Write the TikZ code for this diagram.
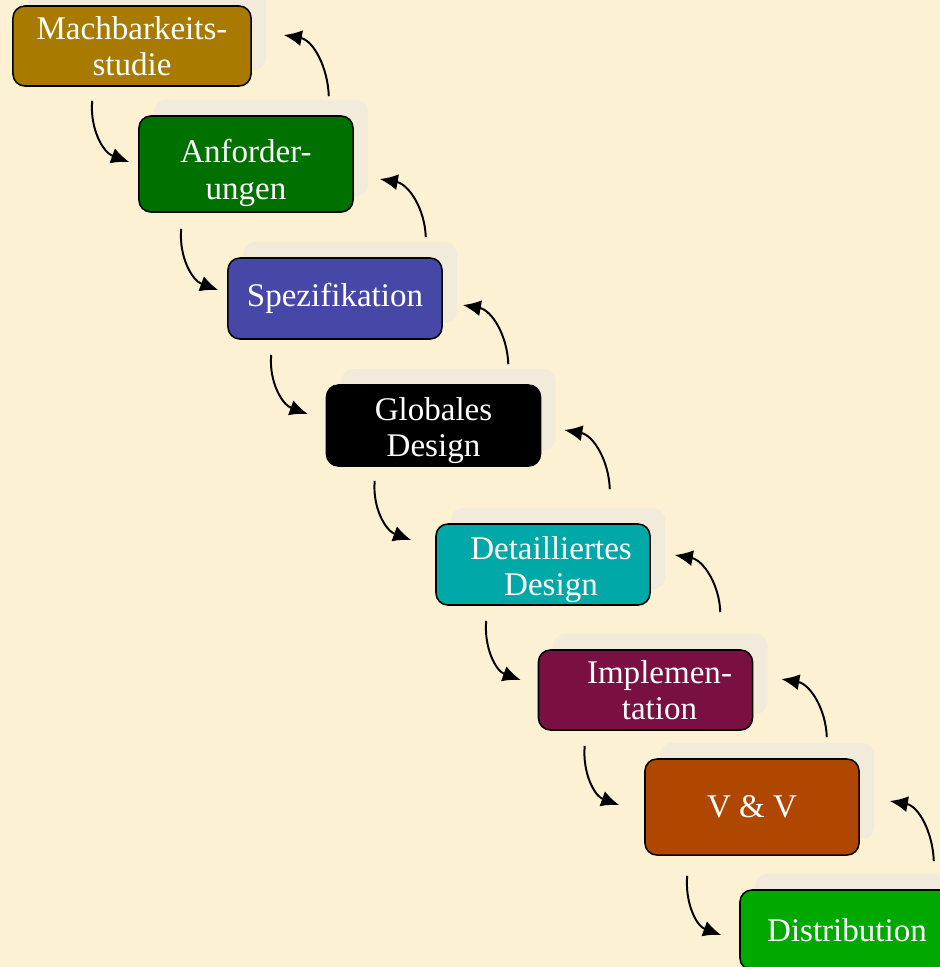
\documentclass[tikz,border=0pt]{standalone}
\usepackage{fontspec}
\setmainfont{Liberation Serif}
\usetikzlibrary{
  arrows.meta,
  calc,     % Calculations $...$
  shadows,  % drop shadow behind the phases
}
\definecolor{parchment}{HTML}{FCF1D2}
\definecolor{shadowgray}{HTML}{F2EBDC}
\definecolor{feascol}{HTML}{A97A00}
\definecolor{reqcol}{HTML}{007000}
\definecolor{speccol}{HTML}{4747A8}
\definecolor{ddescol}{HTML}{00A8A8}
\definecolor{implcol}{HTML}{7A1042}
\definecolor{vvcol}{HTML}{B04700}
\definecolor{distcol}{HTML}{00A800}
\tikzset{
  >={Latex[length=0.45cm,width=0.4cm]},
  phase/.style={
    draw=black,
    line width=1.1pt,
    rounded corners=0.3cm,
    text=white,
    align=center,
    inner sep=1mm,
    minimum width=5.35cm,
    minimum height=2.025cm,
    font=\fontsize{23.5}{26}\selectfont,
    drop shadow={shadow xshift=0.375cm,shadow yshift=0.4cm,
      fill=shadowgray,opacity=1}
  },
  phase high/.style={
    phase,
    minimum height=2.4cm
  },
  % two lines set a bit lower in the box
  lowered/.style={
    text height=#1,
    inner ysep=0pt
  },
  fall link/.style={
    ->,
    line width=1.4pt,
    out=265,in=160
  },
  back link/.style={
    ->,
    line width=1.4pt,
    out=92,in=-10
  }
}
\begin{document}
\begin{tikzpicture}[x=0.025cm,y=-0.025cm]
\fill[parchment] (0,0) rectangle (940,967);
\useasboundingbox (0,0) rectangle (940,967);
\clip (0,0) rectangle (940,967);
% phases
\node[phase,fill=feascol,minimum width=5.95cm,minimum height=2cm]
                            (feas) at (132,46)    {Machbarkeits-\\studie};
\node[phase high,fill=reqcol,lowered=55.6pt]
                            (req)  at (246,164)   {Anforder-\\ungen};
\node[phase,fill=speccol]   (spec) at (335,298.5) {Spezifikation};
\node[phase,fill=black,lowered=49.8pt]
                            (gdes) at (433.5,425.5) {Globales\\Design};
\node[phase,fill=ddescol,lowered=49.8pt]
                            (ddes) at (543,564.5)
  {\hspace*{0.4cm}Detailliertes\\\hspace*{0.4cm}Design};
\node[phase,fill=implcol,minimum height=2cm]
                            (impl) at (645.5,690)
  {\hspace*{0.7cm}Implemen-\\\hspace*{0.7cm}tation};
\node[phase high,fill=vvcol]  (vv)   at (752,807)   {V \& V};
\node[phase,fill=distcol,minimum height=2cm]
                            (dist) at (847,930)   {Distribution};
% forward links
\draw[fall link] ([shift={(80,14)}]feas.south west) to ([shift={(-9,-2)}]req.west);
\draw[fall link] ([shift={(43,16)}]req.south west)  to ([shift={(-9,-8.5)}]spec.west);
\draw[fall link] ([shift={(44,15)}]spec.south west) to ([shift={(-18,-11.5)}]gdes.west);
\draw[fall link] ([shift={(49,14)}]gdes.south west) to ([shift={(-24,-24.5)}]ddes.west);
\draw[fall link] ([shift={(51,15)}]ddes.south west) to ([shift={(-17,-10)}]impl.west);
\draw[fall link] ([shift={(47,15)}]impl.south west) to ([shift={(-25,-2)}]vv.west);
\draw[fall link] ([shift={(43,20)}]vv.south west)   to ([shift={(-18,5)}]dist.west);
% backward links
\draw[back link] ([shift={(-25,-19)}]req.north east)  to ([shift={(32,-11)}]feas.east);
\draw[back link] ([shift={(-17,-20)}]spec.north east) to ([shift={(26,15)}]req.east);
\draw[back link] ([shift={(-33,-20)}]gdes.north east) to ([shift={(20,6.5)}]spec.east);
\draw[back link] ([shift={(-41,-34)}]ddes.north east) to ([shift={(23,4.5)}]gdes.east);
\draw[back link] ([shift={(-33,-37)}]impl.north east) to ([shift={(24,-9.5)}]ddes.east);
\draw[back link] ([shift={(-33,-21)}]vv.north east)   to ([shift={(28,-11)}]impl.east);
\draw[back link] ([shift={(-21,-28)}]dist.north east) to ([shift={(30,-6)}]vv.east);
\end{tikzpicture}
\end{document}
